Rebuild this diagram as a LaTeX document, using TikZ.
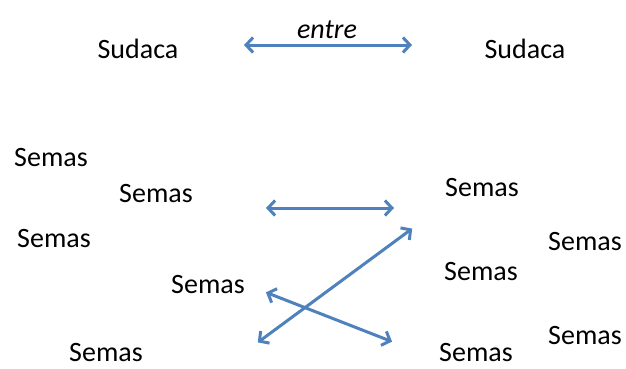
\documentclass[tikz,border=0pt]{standalone}
\usepackage{fontspec}
\setmainfont{Carlito}
\usetikzlibrary{arrows.meta}
\definecolor{arrowblue}{HTML}{4F81BD}
\tikzset{
  word/.style={font=\fontsize{28}{30}\selectfont, inner sep=0pt, anchor=center},
  link/.style={draw=arrowblue, line width=3pt, {Straight Barb[length=7pt,width=15pt]}-{Straight Barb[length=7pt,width=15pt]}, shorten <=1pt, shorten >=1pt}
}
\begin{document}
\begin{tikzpicture}[x=1pt,y=-1pt]
\useasboundingbox (0,0) rectangle (626,368);
% words
\node[word] (sudL) at (138,49) {Sudaca};
\node[word] (sudR) at (525,49) {Sudaca};
\node[word, font=\fontsize{28}{30}\selectfont\itshape] (entre) at (327,30) {entre};
\node[word] (l1) at (51,158) {Semas};
\node[word] (l2) at (156,194) {Semas};
\node[word] (l3) at (54,239) {Semas};
\node[word] (l4) at (208,285) {Semas};
\node[word] (l5) at (106,353) {Semas};
\node[word] (r1) at (482,188) {Semas};
\node[word] (r2) at (585,242) {Semas};
\node[word] (r3) at (481,272) {Semas};
\node[word] (r4) at (585,336) {Semas};
\node[word] (r5) at (476,353) {Semas};
% arrow ends
\coordinate (a1) at (243,45);
\coordinate (a2) at (413,45);
\coordinate (b1) at (265,208);
\coordinate (b2) at (395,208);
\coordinate (c1) at (257,343);
\coordinate (c2) at (413,228);
\coordinate (d1) at (265,292);
\coordinate (d2) at (393,342);
% arrows
\draw[link] (a1) -- (a2);
\draw[link] (b1) -- (b2);
\draw[link] (c1) -- (c2);
\draw[link] (d1) -- (d2);
\end{tikzpicture}
\end{document}
